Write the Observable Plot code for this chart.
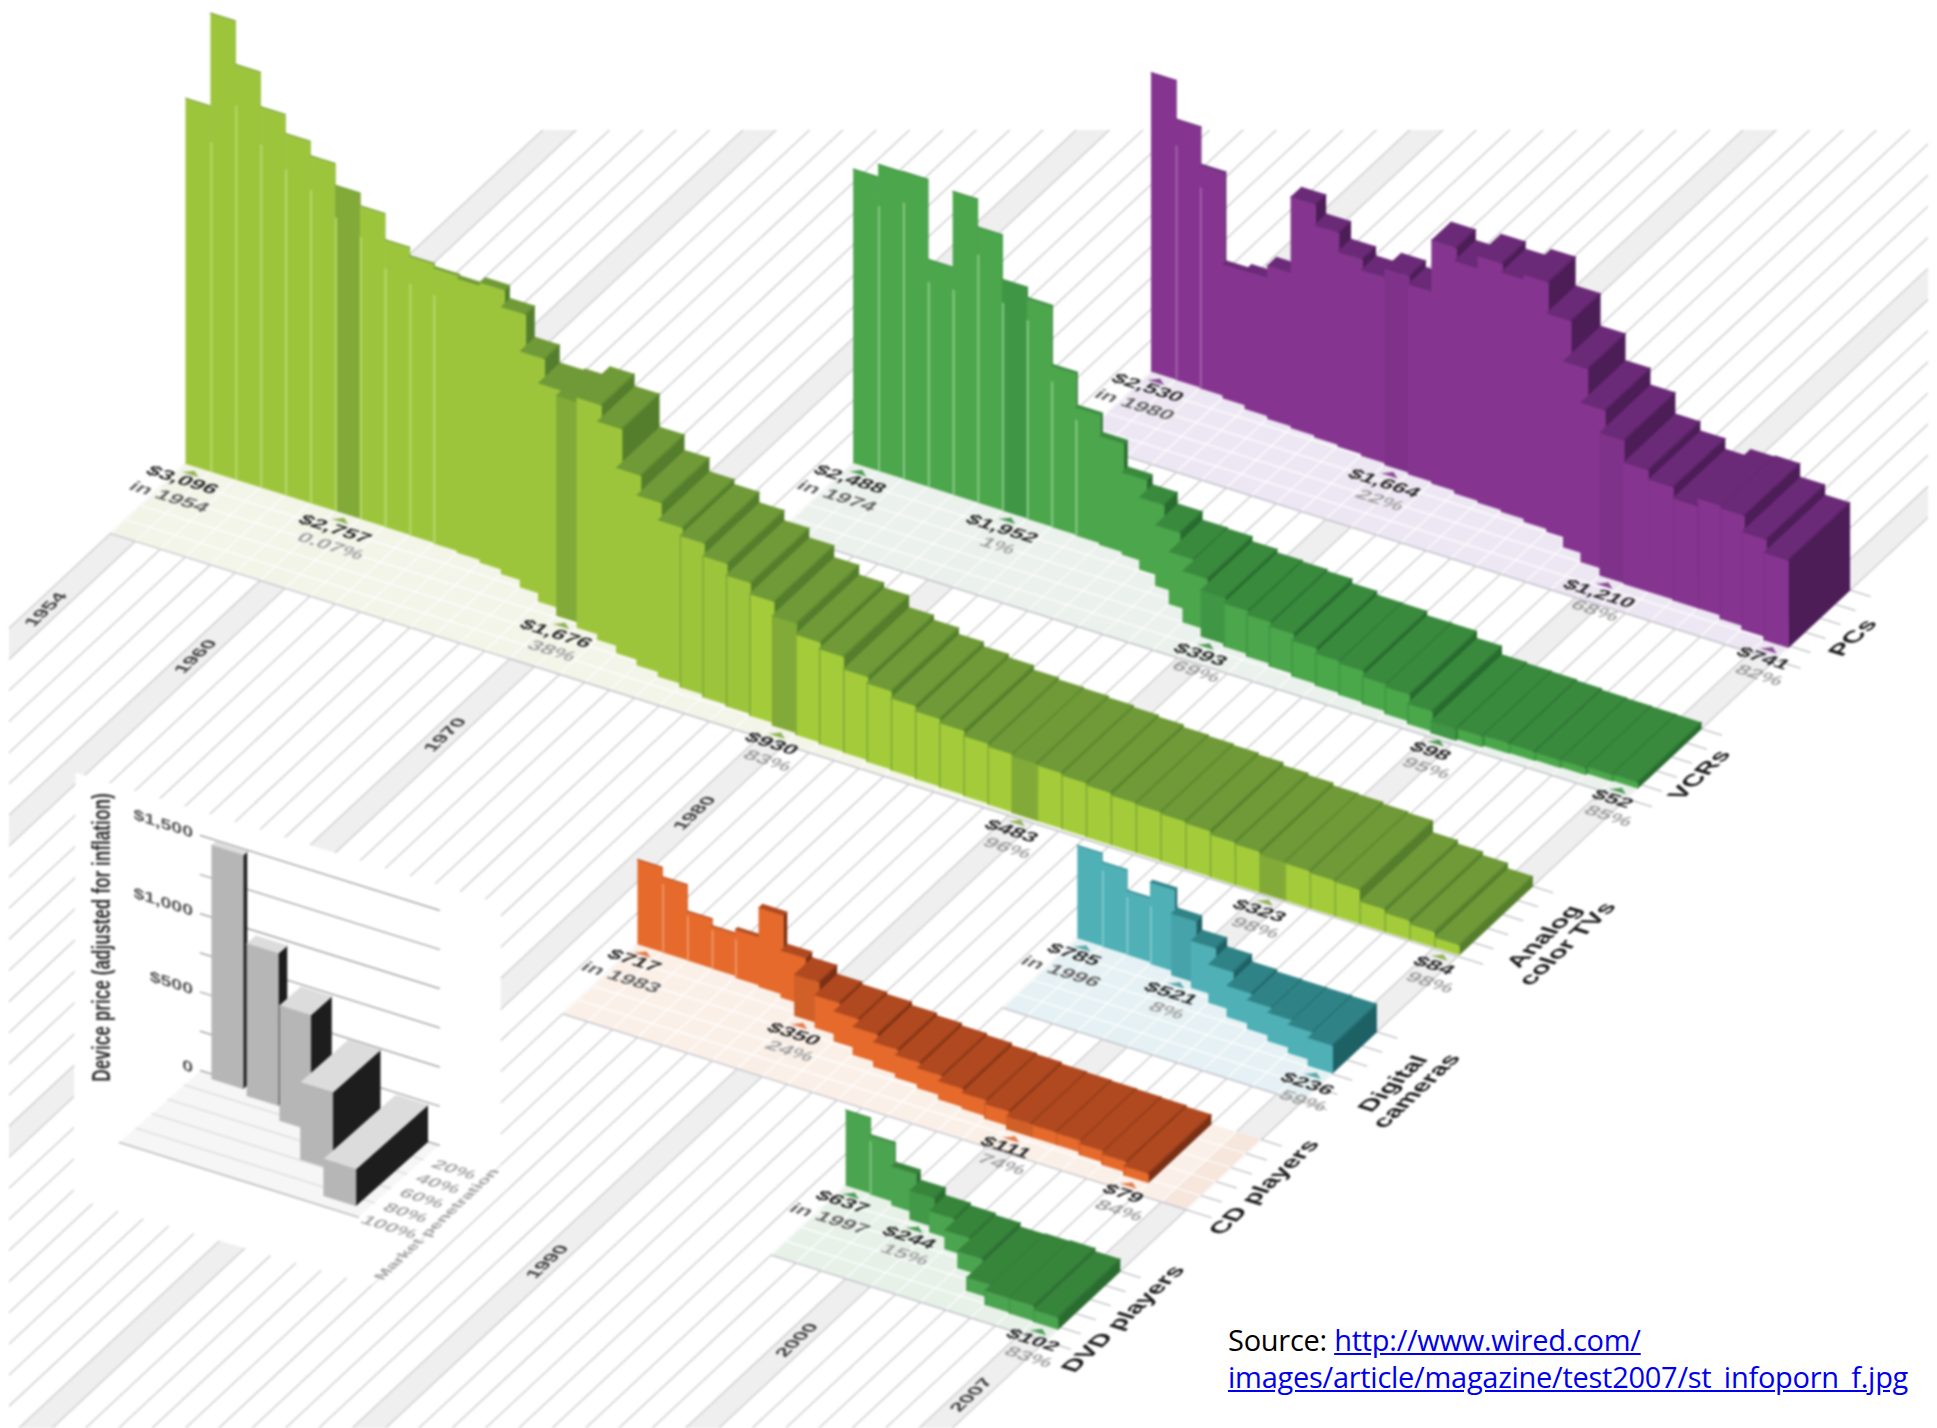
<!DOCTYPE html>
<html>
<head>
<meta charset="utf-8">
<script src="https://cdn.jsdelivr.net/npm/d3@7"></script>
<script src="https://cdn.jsdelivr.net/npm/@observablehq/plot@0.6"></script>
<style>
html,body{margin:0;padding:0;background:#fff;}
#wrap{position:relative;width:1937px;height:1428px;overflow:hidden;}
#wrap svg{display:block;filter:blur(0.85px);}
#source{position:absolute;left:1228px;top:1321px;font:29px/37px "Open Sans",sans-serif;color:#000;white-space:nowrap;letter-spacing:-0.27px;}
#source a{color:#0000ee;text-decoration:underline;}
</style>
</head>
<body>
<div id="wrap"><div id="source">Source: <a href="http://www.wired.com/images/article/magazine/test2007/st_infoporn_f.jpg">http://www.wired.com/<br>images/article/magazine/test2007/st_infoporn_f.jpg</a></div></div>
<script>
// ---------- values ----------
const tvStart = 1954;
const tvPrices = [3096,3884,3516,3224,3063,2941,2757,2650,2430,2360,2333,2322,2373,2263,2000,1850,1865,1950,1850,1570,1440,1325,1283,1195,1110,1030,930,848,805,705,664,610,573,545,507,490,483,470,455,440,420,410,400,385,360,345,323,315,300,290,190,160,130,84];
const tvPen = [.02,.03,.04,.05,.06,.06,.07,.3,.6,1,2,4,7,12,20,29,38,44,50,58,64,69,73,76,78,80,83,85,87,88,90,91,92,93,94,95,96,96,96.5,97,97,97,97.5,97.5,98,98,98,98,98,98,98,98,98,98];
const tvLabelYears = [1954,1960,1970,1980,1990,2000,2007];
const tvLabelPrices = ["$3,096","$2,757","$1,676","$930","$483","$323","$84"];
const tvLabelNotes = ["in 1954","0.07%","38%","83%","96%","98%","98%"];

const vcrStart = 1974;
const vcrPrices = [2488,2595,2600,1923,2566,2330,1952,1865,1364,1085,920,695,610,514,443,435,393,365,355,340,303,271,267,231,229,170,98,90,85,75,63,58,55,52];
const vcrPen = [.1,.1,.2,.3,.5,.7,1,1.5,2,3,5,8,18,30,45,60,69,72,75,78,81,83,85,87,90,93,95,93,91,90,89,88,86,85];
const vcrLabelYears = [1974,1980,1990,2000,2007];
const vcrLabelPrices = ["$2,488","$1,952","$393","$98","$52"];
const vcrLabelNotes = ["in 1974","1%","69%","95%","85%"];

const pcStart = 1980;
const pcPrices = [2530,2203,1887,1134,1170,1297,1957,1797,1650,1574,1664,1610,2060,1970,2090,2030,2094,1850,1576,1350,1210,1030,953,864,930,940,827,741];
const pcPen = [.5,1,2,5,9,12,14,16,18,20,22,24,26,29,31,33,36,39,50,60,68,69,69,70,70,74,78,82];
const pcLabelYears = [1980,1990,2000,2007];
const pcLabelPrices = ["$2,530","$1,664","$1,210","$741"];
const pcLabelNotes = ["in 1980","22%","68%","82%"];

const cdStart = 1983;
const cdPrices = [717,637,415,356,407,670,398,350,276,255,238,210,190,170,155,135,125,111,105,100,95,90,79];
const cdPen = [.1,.3,.6,1,3,5,9,24,30,38,46,52,56,60,65,67,70,74,74,74,77,80,84];
const cdLabelYears = [1983,1990,2000,2005];
const cdLabelPrices = ["$717","$350","$111","$79"];
const cdLabelNotes = ["in 1983","24%","74%","84%"];

const camStart = 1996;
const camPrices = [785,713,540,690,521,400,325,263,245,241,240,236];
const camPen = [.1,.5,1,3,8,15,25,34,40,46,52,59];
const camLabelYears = [1996,2000,2007];
const camLabelPrices = ["$785","$521","$236"];
const camLabelNotes = ["in 1996","8%","59%"];

const dvdStart = 1997;
const dvdPrices = [637,496,330,244,180,160,144,112,120,128,102];
const dvdPen = [.2,1.5,6,15,22,35,51,72,81,82,83];
const dvdLabelYears = [1997,2000,2007];
const dvdLabelPrices = ["$637","$244","$102"];
const dvdLabelNotes = ["in 1997","15%","83%"];

const axisYears = [1954,1960,1970,1980,1990,2000,2007];

const insetPrices = [1490,970,734,490,234];
const insetPen = [5,11,26,59,89];
const insetPriceTicks = [0,250,500,750,1000,1250,1500];
const insetPriceLabels = ["0","","$500","","$1,000","","$1,500"];
const insetPenTicks = [20,40,60,80,100];

// ---------- layout and colours ----------
const W = 1937, H = 1428;
const G = {ox:185, oy:463, dx:24.95, dy:7.83, px:-75, py:70, vz:.118};
const proj = (year, depth, price = 0) => [
  G.ox + (year - 1954) * G.dx + depth * G.px,
  G.oy + (year - 1954) * G.dy + depth * G.py - price * G.vz
];
const I = {ox:200, oy:1070, dx:25, dy:7.83, px:-81, py:72, vz:.1567};
const projI = (u, pen, price = 0) => [
  I.ox + u * I.dx + pen * I.px,
  I.oy + u * I.dy + pen * I.py - price * I.vz
];
const series = [
  {id:"pc",  row:-4.23, start:pcStart,  prices:pcPrices,  pen:pcPen,  ly:pcLabelYears,  lp:pcLabelPrices,  ln:pcLabelNotes,
   floor:"#ebe4f2", front:"#85358f", late:"#85358f", dark:"#7f328a", top:"#6a2a77", side:"#4c1d57", light:"#a565ad", tri:"#8a4a94"},
  {id:"vcr", row:-2.25, start:vcrStart, prices:vcrPrices, pen:vcrPen, ly:vcrLabelYears, lp:vcrLabelPrices, ln:vcrLabelNotes,
   floor:"#e9f0ea", front:"#4ca64c", late:"#4aa84a", dark:"#3f9645", top:"#3a8a3e", side:"#276b2e", light:"#8fce8d", tri:"#4c9a55"},
  {id:"tv",  row:0,     start:tvStart,  prices:tvPrices,  pen:tvPen,  ly:tvLabelYears,  lp:tvLabelPrices,  ln:tvLabelNotes,
   floor:"#f2f4e7", front:"#9dc53c", late:"#a4cc3a", dark:"#82aa38", top:"#6f9a37", side:"#547e2c", light:"#bbdc70", tri:"#8fb255"},
  {id:"cam", row:2.08,  start:camStart, prices:camPrices, pen:camPen, ly:camLabelYears, lp:camLabelPrices, ln:camLabelNotes,
   floor:"#e2f0f3", front:"#4fb0b6", late:"#4fb0b6", dark:"#46a3a9", top:"#2f8386", side:"#1e6165", light:"#82cbd0", tri:"#5aa5a8"},
  {id:"cd",  row:3.62,  start:cdStart,  prices:cdPrices,  pen:cdPen,  ly:cdLabelYears,  lp:cdLabelPrices,  ln:cdLabelNotes,
   floor:"#fbeee6", floorEnd:"#f5e4da", front:"#e56a2c", late:"#e56a2c", dark:"#d05f28", top:"#b0491f", side:"#7a3014", light:"#f29a6a", tri:"#e4784a"},
  {id:"dvd", row:5.5,   start:dvdStart, prices:dvdPrices, pen:dvdPen, ly:dvdLabelYears, lp:dvdLabelPrices, ln:dvdLabelNotes,
   floor:"#e4efe6", front:"#4ba44f", late:"#4ba44f", dark:"#429948", top:"#37843b", side:"#2a6c30", light:"#84c886", tri:"#4c9a55"}
];
const seriesNames = [
  {name:"PCs", row:-4.23, year:2009.6},
  {name:"VCRs", row:-2.25, year:2009.4},
  {name:"Analog\ncolor TVs", row:0, year:2010.4},
  {name:"Digital\ncameras", row:2.08, year:2010.6},
  {name:"CD players", row:3.62, year:2009.6},
  {name:"DVD players", row:5.5, year:2009.6}
];
const axisDepth = y => y <= 1980 ? 2.03 : 7.32;

// ---------- polygons built from the values ----------
let nextId = 0;
function poly(list, pts, color) {
  const id = nextId++;
  for (const [x, y] of pts) list.push({id, x, y, color});
}
function segs(list, a, b) {
  const id = nextId++;
  list.push({id, x:a[0], y:a[1]}, {id, x:b[0], y:b[1]});
}

const stripes = [], bands = [];
for (let y = 1954; y <= 2008; y++) segs(stripes, proj(y, -20), proj(y, 20));
for (const y of axisYears) poly(bands, [proj(y,-20),proj(y+1,-20),proj(y+1,20),proj(y,20)], "#efefef");

const floors = [], floorGrid = [], floorEdge = [], solids = [], triangles = [], priceRows = [], noteRows = [];
for (const s of series) {
  const end = 2008;
  poly(floors, [proj(s.start,s.row),proj(end,s.row),proj(end,s.row+1),proj(s.start,s.row+1)], s.floor);
  const last = s.start + s.prices.length;
  if (s.floorEnd) poly(floors, [proj(last+1,s.row),proj(end,s.row),proj(end,s.row+1),proj(last+1,s.row+1)], s.floorEnd);
  for (let y = s.start; y <= end; y++) segs(floorGrid, proj(y,s.row), proj(y,s.row+1));
  for (const p of [.2,.4,.6,.8]) segs(floorGrid, proj(s.start,s.row+p), proj(end,s.row+p));
  segs(floorEdge, proj(s.start,s.row+1), proj(end+1,s.row+1));
  for (const p of [0,.2,.4,.6,.8]) segs(floorEdge, proj(end,s.row+p), proj(end+.8,s.row+p));
  const step = d3.interpolateRgb(s.top, s.side)(.55);
  s.prices.forEach((price, i) => {
    const y = s.start + i, d = s.row + s.pen[i] / 100;
    const labelled = s.ly.includes(y) && y !== s.start && i !== s.prices.length - 1;
    const face = labelled ? s.dark : s.pen[i] >= 80 ? s.late : s.front;
    poly(solids, [proj(y+1,s.row),proj(y+1,d),proj(y+1,d,price),proj(y+1,s.row,price)], s.side);
    poly(solids, [proj(y,d),proj(y+1,d),proj(y+1,d,price),proj(y,d,price)], face);
    poly(solids, [proj(y,s.row,price),proj(y+1,s.row,price),proj(y+1,d,price),proj(y,d,price)], s.top);
    if (s.pen[i] > 10) poly(solids, [proj(y+.95,s.row,price),proj(y+1,s.row,price),proj(y+1,d,price),proj(y+.95,d,price)], step);
    if (i > 0 && s.pen[i] < 4) {
      const h = Math.min(price, s.prices[i-1]) * .9;
      poly(solids, [proj(y,d),proj(y+.06,d),proj(y+.06,d,h),proj(y,d,h)], s.light);
    } else if (i > 0 && s.pen[i] >= 70) {
      poly(solids, [proj(y,d),proj(y+.05,d),proj(y+.05,d,price),proj(y,d,price)], s.dark);
    }
  });
  s.ly.forEach((y, k) => {
    const i = y - s.start, d = s.row + s.pen[i] / 100;
    poly(triangles, [proj(y+.2,d+.1),proj(y+.8,d+.1),proj(y+.5,d+.05)], s.tri);
    const [cx, cy] = proj(y+.5, d+.05);
    const first = k === 0;
    priceRows.push({x:cx - (first ? 12 : 9), y:cy + (first ? 9 : 11), t:s.lp[k]});
    noteRows.push({x:cx - (first ? 25 : 13), y:cy + (first ? 26 : 28), t:s.ln[k], first});
  });
}

const yearRows = axisYears.map(y => {
  const [x, yy] = proj(y + .5, axisDepth(y));
  return {x, y:yy, t:String(y)};
});
const nameRows = seriesNames.map(n => {
  const [x, y] = proj(n.year, n.row + .5);
  return {x, y, t:n.name};
});

// inset
const U0 = 0, U1 = 9.55;
const insetWhite = [], insetGround = [], insetWall = [], insetLines = [], insetLast = [], insetSolids = [];
poly(insetWhite, [projI(-5,0,1650),projI(12,0,1660),projI(12,0,0),projI(12.2,1.65,0),projI(.5,1.72,0)], "#ffffff");
poly(insetGround, [projI(U0,0),projI(U1,0),projI(U1,1),projI(U0,1)], "#f6f6f6");
for (const t of insetPriceTicks) segs(insetWall, projI(U0,0,t), projI(U1,0,t));
for (const t of insetPenTicks) segs(t === 100 ? insetLast : insetLines, projI(U0,t/100), projI(U1,t/100));
const insetU = [.6,2.2,4,5.9,7.8], insetW = [1.27,1.27,1.25,1.3,1.3];
insetPrices.forEach((price, i) => {
  const a = insetU[i], b = a + insetW[i], p = insetPen[i] / 100;
  poly(insetSolids, [projI(b,0),projI(b,p),projI(b,p,price),projI(b,0,price)], "#1d1d1d");
  poly(insetSolids, [projI(a,0,price),projI(b,0,price),projI(b,p,price),projI(a,p,price)], "#dcdcdc");
  poly(insetSolids, [projI(a,p),projI(b,p),projI(b,p,price),projI(a,p,price)], "#b6b6b6");
});
const insetPriceRows = insetPriceTicks.map((t,i) => {
  const [x,y] = projI(-.3,0,t);
  return {x,y,t:insetPriceLabels[i]};
}).filter(d => d.t);
const insetPenRows = insetPenTicks.map(t => {
  const [x,y] = projI(10.8,t/100);
  return {x,y,t:t+"%"};
});
const [mx,my] = projI(12.1,.82);
const insetTitle = [{x:101,y:937,t:"Device price (adjusted for inflation)"}];
const insetPenTitle = [{x:mx,y:my,t:"Market penetration"}];

// ---------- text on a plane: adds a shear to each text Plot places ----------
const plane = (a,b,c,d) => (index, scales, values, dimensions, context, next) => {
  const g = next(index, scales, values, dimensions, context);
  g.querySelectorAll("text").forEach(t => {
    t.setAttribute("transform", (t.getAttribute("transform") || "") + ` matrix(${a} ${b} ${c} ${d} 0 0)`);
  });
  return g;
};
const alongYear = plane(1.6,.5,-.9,.84);
const alongDepth = (s, u = 1) => plane(.73*s,-.68*s,.955*u,.3*u);
const wall = plane(1.3,.41,0,1);

const polyMark = (data, extra = {}) => Plot.line(data, {x:"x", y:"y", z:"id", fill:"color", stroke:"color", strokeWidth:.6, curve:"linear", ...extra});
const lineMark = (data, stroke, strokeWidth, extra = {}) => Plot.line(data, {x:"x", y:"y", z:"id", stroke, strokeWidth, curve:"linear", ...extra});
const FONT = "Liberation Sans";

const chart = Plot.plot({
  width:W, height:H,
  marginLeft:9, marginRight:9, marginTop:130, marginBottom:0,
  x:{domain:[9,W-9], range:[9,W-9], axis:null},
  y:{domain:[130,H], range:[130,H], axis:null},
  color:{type:"identity"},
  style:{background:"#fff", overflow:"visible"},
  marks:[
    polyMark(bands, {clip:true, strokeWidth:0}),
    lineMark(stripes, "#d0d0d0", 1.5, {clip:true}),
    polyMark(insetWhite),
    polyMark(floors, {fillOpacity:.9, strokeOpacity:0}),
    lineMark(floorGrid, "#ffffff", 1.2),
    lineMark(floorEdge, "#bfbfc8", 1.3),
    polyMark(triangles),
    Plot.text(priceRows, {x:"x", y:"y", text:"t", fontFamily:FONT, fontWeight:700, fontSize:14, fill:"#2b2b2b", render:alongYear}),
    Plot.text(noteRows, {x:"x", y:"y", text:"t", fontFamily:FONT, fontWeight:700, fontSize:14, fill:d => d.first ? "#666" : "#a3a3a3", render:alongYear}),
    polyMark(solids),
    Plot.text(yearRows, {x:"x", y:"y", text:"t", fontFamily:FONT, fontWeight:700, fontSize:16, fill:"#444", render:alongDepth(1.32,1.1)}),
    Plot.text(nameRows, {x:"x", y:"y", text:"t", fontFamily:FONT, fontWeight:700, fontSize:22, fill:"#1c1c1c", lineHeight:1.05, render:alongDepth(1.18,1.05)}),
    // inset
    polyMark(insetGround, {strokeOpacity:0}),
    lineMark(insetWall, "#a9a9a9", 1.5),
    lineMark(insetLines, "#dcdcdc", 1.4),
    lineMark(insetLast, "#bdbdbd", 1.6),
    polyMark(insetSolids),
    Plot.text(insetPriceRows, {x:"x", y:"y", text:"t", textAnchor:"end", fontFamily:FONT, fontWeight:700, fontSize:15, fill:"#555", render:wall}),
    Plot.text(insetPenRows, {x:"x", y:"y", text:"t", fontFamily:FONT, fontSize:13, fontWeight:700, fill:"#aaa", render:alongYear}),
    Plot.text(insetPenTitle, {x:"x", y:"y", text:"t", fontFamily:FONT, fontSize:15, fontWeight:700, fill:"#a5a5a5", render:alongDepth(1.2)}),
    Plot.text(insetTitle, {x:"x", y:"y", text:"t", fontFamily:FONT, fontSize:25, fontWeight:700, fill:"#333", render:plane(0,-.69,1,0)})
  ]
});
document.getElementById("wrap").prepend(chart);
</script>
</body>
</html>
